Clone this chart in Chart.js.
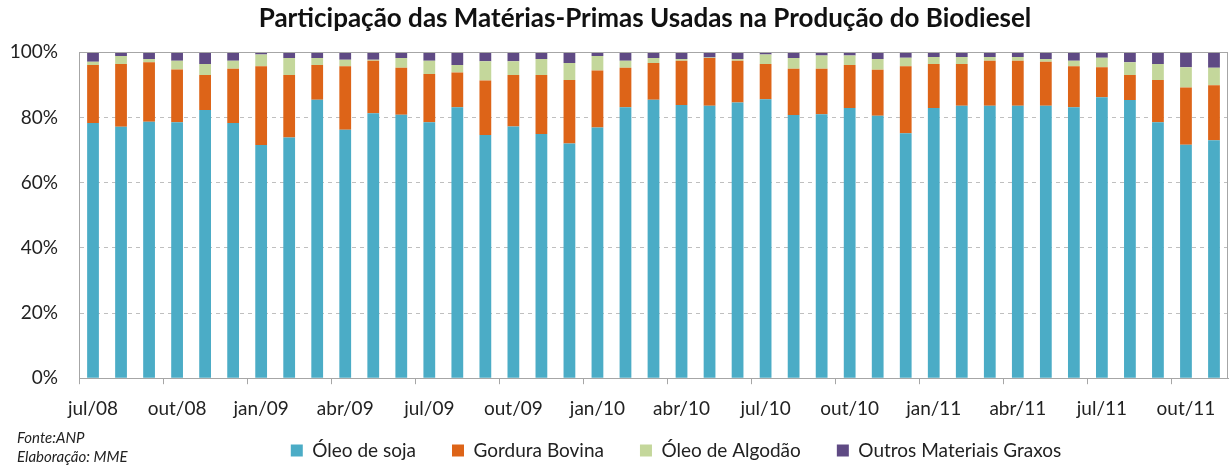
<!DOCTYPE html>
<html>
<head>
<meta charset="utf-8">
<script src="https://cdn.jsdelivr.net/npm/chart.js@4"></script>
<style>
  html, body { margin: 0; padding: 0; background: #fff; }
  #wrap { width: 1231px; height: 467px; }
</style>
</head>
<body>
<div id="wrap"><canvas id="chart"></canvas></div>
<script>
/* DATA */
let months = ["jul/08","ago/08","set/08","out/08","nov/08","dez/08",
    "jan/09","fev/09","mar/09","abr/09","mai/09","jun/09","jul/09","ago/09","set/09","out/09","nov/09","dez/09",
    "jan/10","fev/10","mar/10","abr/10","mai/10","jun/10","jul/10","ago/10","set/10","out/10","nov/10","dez/10",
    "jan/11","fev/11","mar/11","abr/11","mai/11","jun/11","jul/11","ago/11","set/11","out/11","nov/11"];

let soja    = [78.3,77.1,78.7,78.5,82.3,78.3, 71.5,73.8,85.4,76.2,81.3,80.8,78.5,83.1,74.6,77.2,74.9,72.0,
               76.9,83.1,85.4,83.8,83.6,84.6,85.6,80.7,81.0,82.9,80.5,75.1, 82.9,83.6,83.6,83.6,83.6,83.1,86.2,85.3,78.5,71.6,73.0];
let bovina  = [17.8,19.3,18.2,16.2,10.7,16.6, 24.2,19.2,10.7,19.5,16.1,14.4,14.8,10.7,16.7,15.8,18.1,19.5,
               17.5,12.1,11.3,13.6,14.6,12.8,10.8,14.2,13.9,13.2,14.1,20.6, 13.5,12.8,13.8,13.8,13.5,12.6,9.2,7.7,13.0,17.6,16.9];
let algodao = [1.0,2.4,1.0,2.7,3.4,2.5, 3.6,5.2,2.1,2.0,0.3,3.0,4.1,2.3,5.9,4.2,4.9,5.2,
               4.4,2.2,1.5,0.5,0.2,0.5,2.9,3.3,4.1,2.9,3.3,2.6, 2.1,2.1,1.1,1.1,0.8,1.7,2.9,3.9,4.9,6.2,5.3];
let outros  = [2.9,1.2,2.1,2.6,3.6,2.6, 0.7,1.8,1.8,2.3,2.3,1.8,2.6,3.9,2.8,2.8,2.1,3.3,
               1.2,2.6,1.8,2.1,1.6,2.1,0.7,1.8,1.0,1.0,2.1,1.7, 1.5,1.5,1.5,1.5,2.1,2.6,1.7,3.1,3.6,4.6,4.8];

let yTicks = [0, 20, 40, 60, 80, 100];

let font = "Lato";
let grey = "#a6a6a6";

/* FRAME + SOURCE NOTE */
let extras = {
    id: "extras",
    afterLayout(chart) {
        // legend and title sit right of centre in the original
        let lg = chart.legend;
        lg.left += 62; lg.right += 62;
        lg.top -= 28; lg.bottom -= 28;
        chart.titleBlock.left += 31;
        chart.titleBlock.right += 31;
    },
    afterDatasetsDraw(chart) {
        let a = chart.chartArea, ctx = chart.ctx;
        ctx.save();
        ctx.strokeStyle = grey;
        ctx.lineWidth = 1;
        ctx.strokeRect(Math.round(a.left) + 0.5, Math.round(a.top) + 0.5,
            Math.round(a.right - a.left) - 1, Math.round(a.bottom - a.top));
        ctx.restore();
    },
    afterDraw(chart) {
        let ctx = chart.ctx;
        ctx.save();
        ctx.fillStyle = "#222";
        ctx.font = "italic 15px " + font;
        ctx.textBaseline = "alphabetic";
        ctx.fillText("Fonte:ANP", 17, 443);
        ctx.fillText("Elaboração: MME", 17, 462);
        ctx.restore();
    }
};

new Chart(document.getElementById("chart"), {
    type: "bar",
    data: {
        labels: months,
        datasets: [
            { label: "Óleo de soja", data: soja, backgroundColor: "#4bacc6" },
            { label: "Gordura Bovina", data: bovina, backgroundColor: "#dd6418" },
            { label: "Óleo de Algodão", data: algodao, backgroundColor: "#c4d79b" },
            { label: "Outros Materiais Graxos", data: outros, backgroundColor: "#5f4a84" }
        ]
    },
    options: {
        responsive: true,
        maintainAspectRatio: false,
        animation: false,
        datasets: { bar: { barPercentage: 0.42, categoryPercentage: 1 } },
        layout: { padding: { left: 0, right: 3, top: 0, bottom: -31 } },
        scales: {
            x: {
                stacked: true,
                grid: {
                    offset: true,
                    drawOnChartArea: false,
                    tickLength: 6,
                    color: ctx => ctx.index % 3 === 0 ? grey : "rgba(0,0,0,0)"
                },
                border: { display: true, color: grey },
                ticks: {
                    autoSkip: false,
                    maxRotation: 0,
                    padding: 13,
                    color: "#222",
                    font: { family: font, size: 19 },
                    callback: (v, i) => i % 3 === 0 ? months[i] : ""
                }
            },
            y: {
                stacked: true,
                min: 0,
                max: 100,
                afterFit: s => { s.width = 79; },
                afterBuildTicks: s => { s.ticks = yTicks.map(v => ({ value: v })); },
                grid: {
                    drawTicks: false,
                    color: ctx => (ctx.tick && (ctx.tick.value === 0 || ctx.tick.value === 100)) ? "rgba(0,0,0,0)" : "#bfbfbf"
                },
                border: { display: true, color: grey, dash: [4, 4] },
                ticks: {
                    padding: 21,
                    color: "#222",
                    font: { family: font, size: 19 },
                    callback: v => v + "%"
                }
            }
        },
        plugins: {
            title: {
                display: true,
                text: "Participação das Matérias-Primas Usadas na Produção do Biodiesel",
                color: "#111",
                font: { family: font, size: 26, weight: "bold" },
                padding: { top: 3, bottom: 18 }
            },
            legend: {
                position: "bottom",
                labels: {
                    color: "#222",
                    font: { family: font, size: 19 },
                    boxWidth: 12,
                    boxHeight: 12,
                    padding: 36
                }
            },
            tooltip: { enabled: false }
        }
    },
    plugins: [extras]
});
</script>
</body>
</html>
